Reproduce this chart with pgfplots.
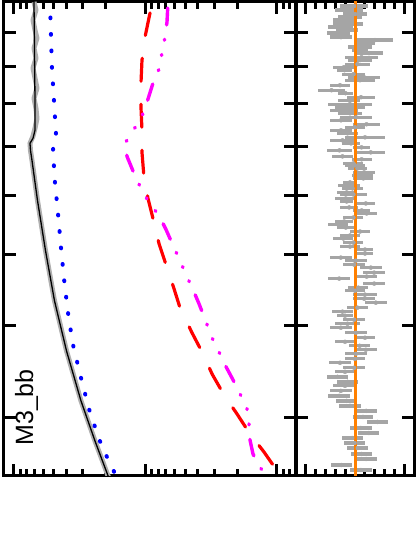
\documentclass[border=0pt]{standalone}
\usepackage{pgfplots}
\pgfplotsset{compat=1.18}
\usepackage{pgfplotstable}
\usepackage{fontspec}
\setmainfont{Liberation Sans}
\definecolor{bandgray}{RGB}{175,175,175}
\definecolor{bargray}{RGB}{165,165,165}
\definecolor{ratioorange}{RGB}{255,128,0}
\definecolor{mymag}{RGB}{255,0,255}

% log10(M3_bb)  and  log10(events)
\pgfplotstableread{
w u
3.0414 2.8479
2.9761 2.8441
2.9080 2.8403
2.8672 2.8403
2.8563 2.8556
2.8495 2.8784
2.8400 2.8746
2.8264 2.8632
2.7720 2.8213
2.7040 2.7605
2.6359 2.6921
2.5679 2.6008
2.4999 2.4905
2.4455 2.3841
2.3965 2.2814
}\blackdata

\pgfplotstableread{
w u
3.0414 2.8479
3.0305 2.8327
3.0169 2.8556
3.0033 2.8403
2.9924 2.8251
2.9788 2.8479
2.9652 2.8327
2.9516 2.8556
2.9380 2.8403
2.9244 2.8251
2.9107 2.8479
2.8971 2.8327
2.8835 2.8251
2.8699 2.8403
2.8591 2.8556
2.8495 2.8784
2.8400 2.8746
2.8264 2.8632
2.7720 2.8213
2.7040 2.7605
2.6359 2.6921
2.5679 2.6008
2.4999 2.4905
2.4455 2.3841
2.3965 2.2814
}\banddata

\pgfplotstableread{
w u
3.0414 2.7263
2.9965 2.7187
2.9516 2.7111
2.9080 2.6959
2.8631 2.6806
2.8563 2.6806
2.8468 2.6997
2.8400 2.7035
2.7965 2.6883
2.7543 2.6654
2.7080 2.6426
2.6659 2.6198
2.6196 2.5894
2.5761 2.5514
2.5312 2.4905
2.4890 2.4297
2.4482 2.3536
2.4264 2.3004
2.4074 2.2472
2.3965 2.2244
}\bluedata

\pgfplotstableread{
w u
3.0414 1.9582
3.0264 1.9658
2.9937 2.0038
2.9624 2.0267
2.9312 2.0343
2.8985 2.0343
2.8672 2.0267
2.8373 2.0267
2.8033 2.0114
2.7747 1.9810
2.7420 1.9354
2.7135 1.8974
2.6808 1.8365
2.6523 1.7833
2.6264 1.7377
2.5924 1.6464
2.5638 1.5628
2.5366 1.4943
2.5080 1.4031
2.4822 1.3042
2.4550 1.2054
2.4305 1.0989
2.3992 0.9772
}\reddata

\pgfplotstableread{
w u
3.0414 1.8289
3.0141 1.8365
2.9937 1.8517
2.9720 1.8746
2.9502 1.8974
2.9312 1.9430
2.9053 1.9886
2.8863 2.0267
2.8686 2.0875
2.8495 2.1559
2.8318 2.1407
2.8087 2.0875
2.7883 2.0343
2.7693 1.9734
2.7516 1.8974
2.7325 1.8441
2.7080 1.7833
2.6903 1.7377
2.6713 1.6920
2.6509 1.6388
2.6318 1.5932
2.6074 1.5400
2.5883 1.5019
2.5693 1.4487
2.5489 1.3955
2.5285 1.3346
2.5067 1.2738
2.4890 1.2282
2.4686 1.2129
2.4468 1.2054
2.4278 1.1825
2.4142 1.1445
2.4019 1.0989
2.3965 1.0837
}\magdata

\pgfplotstableread{
w r e
3.0359 1.0102 0.1429
3.0305 1.0612 0.1429
3.0250 1.0000 0.1224
3.0209 1.0510 0.1224
3.0169 1.1071 0.1173
3.0114 1.0714 0.1531
3.0073 1.1480 0.1276
3.0033 1.0816 0.1122
2.9992 1.1684 0.1173
2.9937 1.1429 0.1122
2.9897 0.7959 0.1837
2.9856 0.8980 0.1020
2.9801 0.9490 0.1224
2.9761 0.9490 0.0816
2.9720 0.8571 0.1429
2.9665 0.9337 0.1684
2.9625 0.9490 0.1224
2.9570 0.9745 0.1276
2.9529 1.1122 0.1122
2.9488 1.1071 0.0765
2.9434 1.0153 0.1173
2.9393 0.9082 0.1633
2.9352 0.9490 0.1531
2.9284 1.1531 0.1020
2.9216 1.2398 0.1378
2.9176 1.0969 0.0765
2.9121 0.9388 0.1429
2.9080 1.0612 0.1122
2.9026 1.0510 0.2245
2.8985 1.0510 0.1531
2.8944 1.1122 0.1429
2.8903 1.0510 0.1224
2.8849 0.9898 0.1633
2.8808 1.1429 0.1122
2.8754 0.8827 0.1378
2.8713 1.0000 0.1020
2.8672 1.1429 0.1122
2.8631 1.0765 0.1071
2.8577 0.8980 0.2041
2.8536 1.1276 0.1276
2.8495 1.0408 0.0918
2.8441 0.9337 0.0867
2.8400 1.1582 0.1276
2.8373 0.8388 0.1446
2.8318 1.1276 0.1105
2.8278 0.9320 0.1020
2.8223 1.0170 0.1020
2.8196 1.0000 0.1020
2.8155 0.9745 0.0935
2.8101 0.9065 0.1105
2.8060 0.9235 0.1105
2.8019 0.9150 0.1020
2.7965 1.0510 0.0680
2.7924 1.0595 0.1105
2.7883 1.0255 0.1105
2.7829 1.0850 0.1020
2.7801 1.0170 0.1361
2.7747 1.0935 0.1105
2.7706 1.0850 0.0680
2.7679 0.8895 0.0935
2.7625 1.0595 0.0935
2.7584 0.9320 0.0850
2.7543 0.8810 0.1020
2.7488 1.0170 0.1020
2.7434 1.1105 0.0935
2.7393 1.1701 0.1020
2.7352 1.0935 0.0935
2.7298 0.9490 0.1020
2.7244 1.0510 0.1020
2.7203 1.1190 0.1020
2.7148 1.0170 0.1020
2.7094 1.0510 0.1020
2.7053 0.8980 0.0850
2.6999 0.8980 0.0850
2.6944 1.1445 0.1105
2.6903 0.9915 0.1105
2.6849 1.0085 0.1105
2.6808 0.8385 0.1105
2.6740 0.8045 0.1105
2.6686 0.8810 0.1020
2.6659 1.1615 0.1105
2.6591 0.8045 0.1105
2.6536 0.9660 0.1020
2.6495 1.0000 0.1020
2.6441 0.8980 0.1190
2.6386 0.9065 0.1105
2.6332 0.7875 0.1105
2.6264 0.9745 0.1105
2.6210 1.1276 0.1105
2.6155 1.1020 0.0850
2.6101 1.0085 0.1105
2.6046 1.0765 0.1276
2.5992 1.1445 0.1105
2.5924 0.9915 0.1105
2.5856 0.8980 0.1020
2.5801 1.1020 0.1020
2.5747 0.9525 0.1054
2.5693 0.8895 0.1105
2.5638 0.9915 0.1105
2.5570 1.0000 0.1020
2.5516 1.1531 0.1088
2.5448 1.0085 0.1105
2.5393 1.1020 0.1020
2.5325 1.1786 0.1105
2.5257 1.0765 0.1105
2.5203 1.1020 0.1190
2.5135 1.1445 0.1105
2.5067 1.1615 0.1105
2.4999 1.0850 0.1088
2.4931 1.0510 0.1088
2.4863 0.8861 0.1139
2.4781 0.9184 0.1054
2.4713 0.7704 0.1105
2.4631 0.9405 0.1105
2.4563 0.8588 0.1071
2.4495 1.0289 0.1071
2.4427 1.0051 0.1071
2.4359 0.9711 0.1071
2.4278 0.9337 0.1105
2.4210 0.8861 0.1139
2.4128 1.1395 0.1054
2.4060 0.9405 0.1105
}\ratiodata

\pgfplotsset{
  myframe/.style={
    scale only axis,
    axis line style={line width=3pt},
    every tick/.style={black, line width=3pt},
    major tick length=12pt,
    minor tick length=7pt,
    tick align=inside,
    xticklabel=\empty, yticklabel=\empty,
    ymin=2.3979, ymax=3.0414,
    ytick={2.4771,2.6021,2.6990,2.7782,2.8451,2.9031,2.9542,3.0},
    minor ytick={},
    x dir=reverse,
  }
}

\begin{document}
\begin{tikzpicture}
\path[use as bounding box] (0pt,0pt) rectangle (419pt,555pt);

\begin{axis}[myframe,
  at={(4pt,79pt)}, anchor=south west,
  width=292pt, height=474pt,
  xmin=0.8555, xmax=3.076,
  xtick={1,2,3},
  minor xtick={0.9031,0.9542,1.3010,1.4771,1.6021,1.6990,1.7782,1.8451,1.9031,1.9542,2.3010,2.4771,2.6021,2.6990,2.7782,2.8451,2.9031,2.9542},
]
\addplot[bandgray, line width=5pt, line join=round] table[x=u, y=w] {\banddata};
\addplot[black, line width=1.3pt, line join=round] table[x=u, y=w] {\blackdata};
\addplot[blue, line width=4pt, line cap=round, dash pattern=on 0.8pt off 15.7pt, dash phase=1pt] table[x=u, y=w] {\bluedata};
\addplot[red, line width=3.2pt, line cap=round, dash pattern=on 23pt off 23pt, dash phase=35pt] table[x=u, y=w] {\reddata};
\addplot[mymag, line width=3.4pt, line cap=round, dash pattern=on 17pt off 14.5pt on 1pt off 14.5pt on 1pt off 14.5pt on 1pt off 14.5pt, dash phase=72pt] table[x=u, y=w] {\magdata};
\end{axis}

\begin{axis}[myframe,
  at={(296pt,79pt)}, anchor=south west,
  width=118pt, height=474pt,
  xmin=0.398, xmax=1.602,
  xtick={0.5,1.5},
  minor xtick={0.6,0.7,0.8,0.9,1.0,1.1,1.2,1.3,1.4},
]
\addplot[bargray, only marks, mark=none,
  error bars/.cd, x dir=both, x explicit, error mark=none,
  error bar style={line width=3.3pt, bargray}]
  table[x=r, y=w, x error=e] {\ratiodata};
\addplot[ratioorange, line width=3pt] coordinates {(1,2.39) (1,3.05)};
\end{axis}

\node[rotate=90, anchor=base, font=\fontsize{25}{30}\selectfont] at (33pt,147.5pt) {M3\_bb};
\end{tikzpicture}
\end{document}
